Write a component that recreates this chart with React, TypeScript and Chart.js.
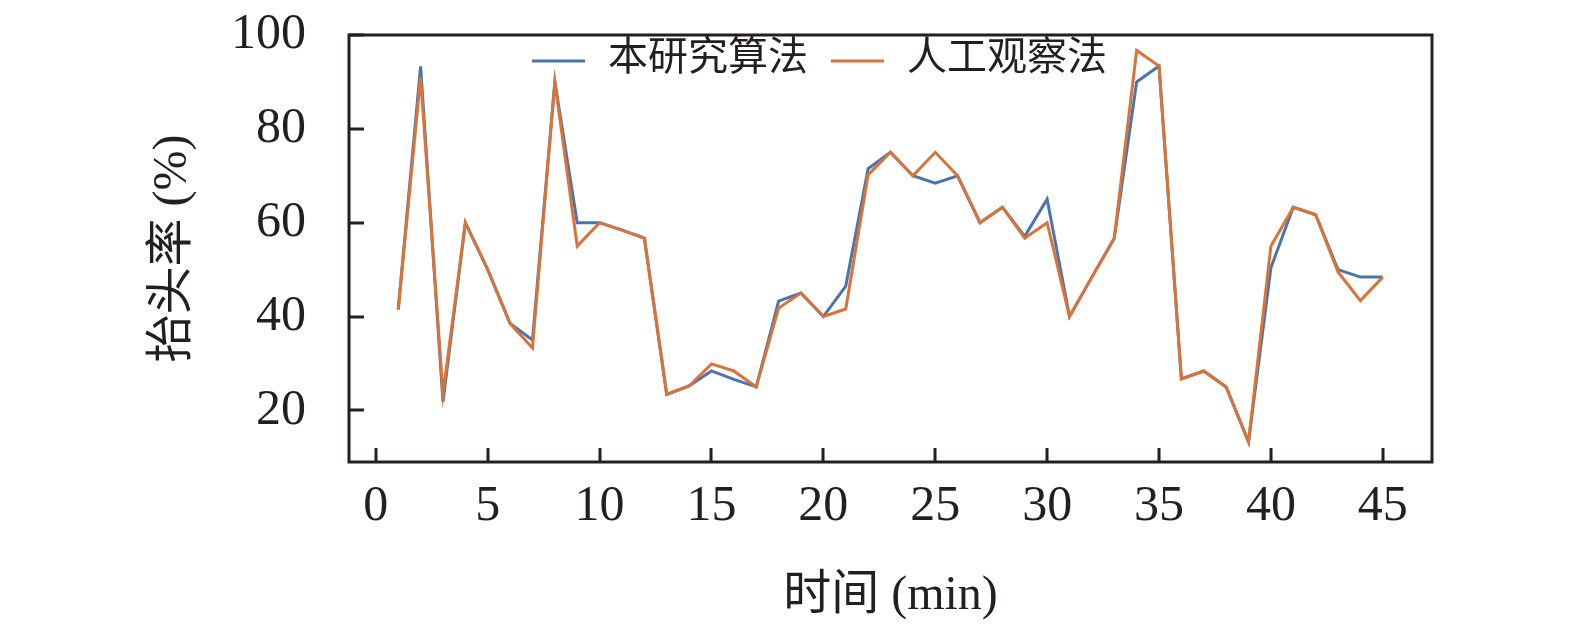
import React, { useEffect, useRef } from 'react'
import Chart from 'chart.js/auto'

const minutes = [
  1, 2, 3, 4, 5, 6, 7, 8, 9, 10, 11, 12, 13, 14, 15, 16, 17, 18, 19, 20, 21, 22, 23,
  24, 25, 26, 27, 28, 29, 30, 31, 32, 33, 34, 35, 36, 37, 38, 39, 40, 41, 42, 43, 44, 45
]

// 本研究算法
const algorithmRate = [
  41.5, 93.3, 21.8, 60, 50, 38.5, 35, 90, 60, 60, 58.4, 56.7, 23.4, 25.2, 28.4, 26.6, 25,
  43.3, 45, 40, 46.5, 71.5, 75, 70, 68.4, 70, 60, 63.3, 57.1, 65, 40, 48.4, 56.7, 90, 93.4,
  26.7, 28.4, 25, 13.3, 50.4, 63.3, 61.7, 50, 48.4, 48.4
]

// 人工观察法
const manualRate = [
  41.5, 91, 23.5, 60, 50, 38.5, 33.3, 90, 55, 60, 58.4, 56.7, 23.4, 25.2, 29.9, 28.4, 25,
  41.8, 45, 40, 41.6, 70.2, 75, 70, 75, 70, 60, 63.3, 56.7, 60, 40, 48.4, 56.7, 96.7, 93.4,
  26.7, 28.4, 25, 13.3, 55, 63.3, 61.7, 49.5, 43.4, 48.4
]

const seriesNames = ['本研究算法', '人工观察法']
const xTicks = [0, 5, 10, 15, 20, 25, 30, 35, 40, 45]
const yTicks = [20, 40, 60, 80, 100]

const FONT = '"Liberation Serif", "Noto Sans CJK SC", serif'
const INK = '#231f20'
const BLUE = '#4a75aa'
const ORANGE = '#d8733a'

// frame, inward ticks and the legend inside the axes
const framePlugin = {
  id: 'frame',
  afterDraw(chart: any) {
    const { ctx, chartArea } = chart
    const { left, right, top, bottom } = chartArea
    ctx.save()
    ctx.strokeStyle = INK
    ctx.lineWidth = 3
    ctx.beginPath()
    for (const t of chart.scales.x.ticks) {
      const px = Math.round(chart.scales.x.getPixelForValue(t.value))
      ctx.moveTo(px, bottom)
      ctx.lineTo(px, bottom - 14)
    }
    for (const t of chart.scales.y.ticks) {
      const py = Math.round(chart.scales.y.getPixelForValue(t.value))
      ctx.moveTo(left, py)
      ctx.lineTo(left + 15, py)
    }
    ctx.stroke()
    ctx.strokeRect(left, top, right - left, bottom - top)

    // legend
    ctx.font = `40px ${FONT}`
    ctx.textBaseline = 'middle'
    ctx.textAlign = 'left'
    let x = 532
    const y = 61
    chart.data.datasets.forEach((ds: any) => {
      ctx.strokeStyle = ds.borderColor
      ctx.lineWidth = 3
      ctx.beginPath()
      ctx.moveTo(x, y)
      ctx.lineTo(x + 53, y)
      ctx.stroke()
      x += 53 + 23
      ctx.fillStyle = INK
      ctx.fillText(ds.label, x, y - 2)
      x += ctx.measureText(ds.label).width + 23
    })
    ctx.restore()
  }
}

const App: React.FC = () => {
  const chartRef = useRef<HTMLCanvasElement | null>(null)
  const chartInstance = useRef<Chart | null>(null)

  useEffect(() => {
    document.body.style.margin = '0'
    if (chartRef.current === null) return
    if (chartInstance.current !== null) chartInstance.current.destroy()

    chartInstance.current = new Chart(chartRef.current, {
      type: 'line',
      data: {
        datasets: [
          {
            label: seriesNames[0],
            data: minutes.map((m, i) => ({ x: m, y: algorithmRate[i] })),
            borderColor: BLUE,
            backgroundColor: BLUE,
            borderWidth: 3,
            pointRadius: 0,
            tension: 0,
            order: 1
          },
          {
            label: seriesNames[1],
            data: minutes.map((m, i) => ({ x: m, y: manualRate[i] })),
            borderColor: ORANGE,
            backgroundColor: ORANGE,
            borderWidth: 3,
            pointRadius: 0,
            tension: 0,
            order: 0
          }
        ]
      },
      options: {
        responsive: true,
        maintainAspectRatio: false,
        animation: false,
        layout: { padding: { left: 145, right: 143, top: 35, bottom: 5 } },
        plugins: {
          legend: { display: false },
          tooltip: { enabled: false }
        },
        scales: {
          x: {
            type: 'linear',
            min: -1.2,
            max: 47.2,
            afterBuildTicks: (scale: any) => {
              scale.ticks = xTicks.map((v) => ({ value: v }))
            },
            afterFit: (scale: any) => {
              scale.height = 163
              scale.paddingLeft = 0
              scale.paddingRight = 0
            },
            grid: { display: false, drawTicks: false },
            border: { display: false },
            ticks: {
              padding: 15,
              color: INK,
              font: { family: FONT, size: 50 },
              maxRotation: 0
            },
            title: {
              display: true,
              text: '时间 (min)',
              color: INK,
              font: { family: FONT, size: 48 },
              padding: 0
            }
          },
          y: {
            type: 'linear',
            min: 9,
            max: 100,
            afterBuildTicks: (scale: any) => {
              scale.ticks = yTicks.map((v) => ({ value: v }))
            },
            afterFit: (scale: any) => {
              scale.width = 204
              scale.paddingTop = 0
              scale.paddingBottom = 0
            },
            grid: { display: false, drawTicks: false },
            border: { display: false },
            ticks: {
              padding: 43,
              color: INK,
              font: { family: FONT, size: 50 }
            },
            title: {
              display: true,
              text: '抬头率 (%)',
              color: INK,
              font: { family: FONT, size: 48 },
              padding: 0
            }
          }
        }
      },
      plugins: [framePlugin]
    })

    return () => {
      if (chartInstance.current !== null) {
        chartInstance.current.destroy()
        chartInstance.current = null
      }
    }
  }, [])

  return (
    <div style={{ width: '1575px', height: '630px', position: 'relative' }}>
      <canvas ref={chartRef} />
    </div>
  )
}

export default App
